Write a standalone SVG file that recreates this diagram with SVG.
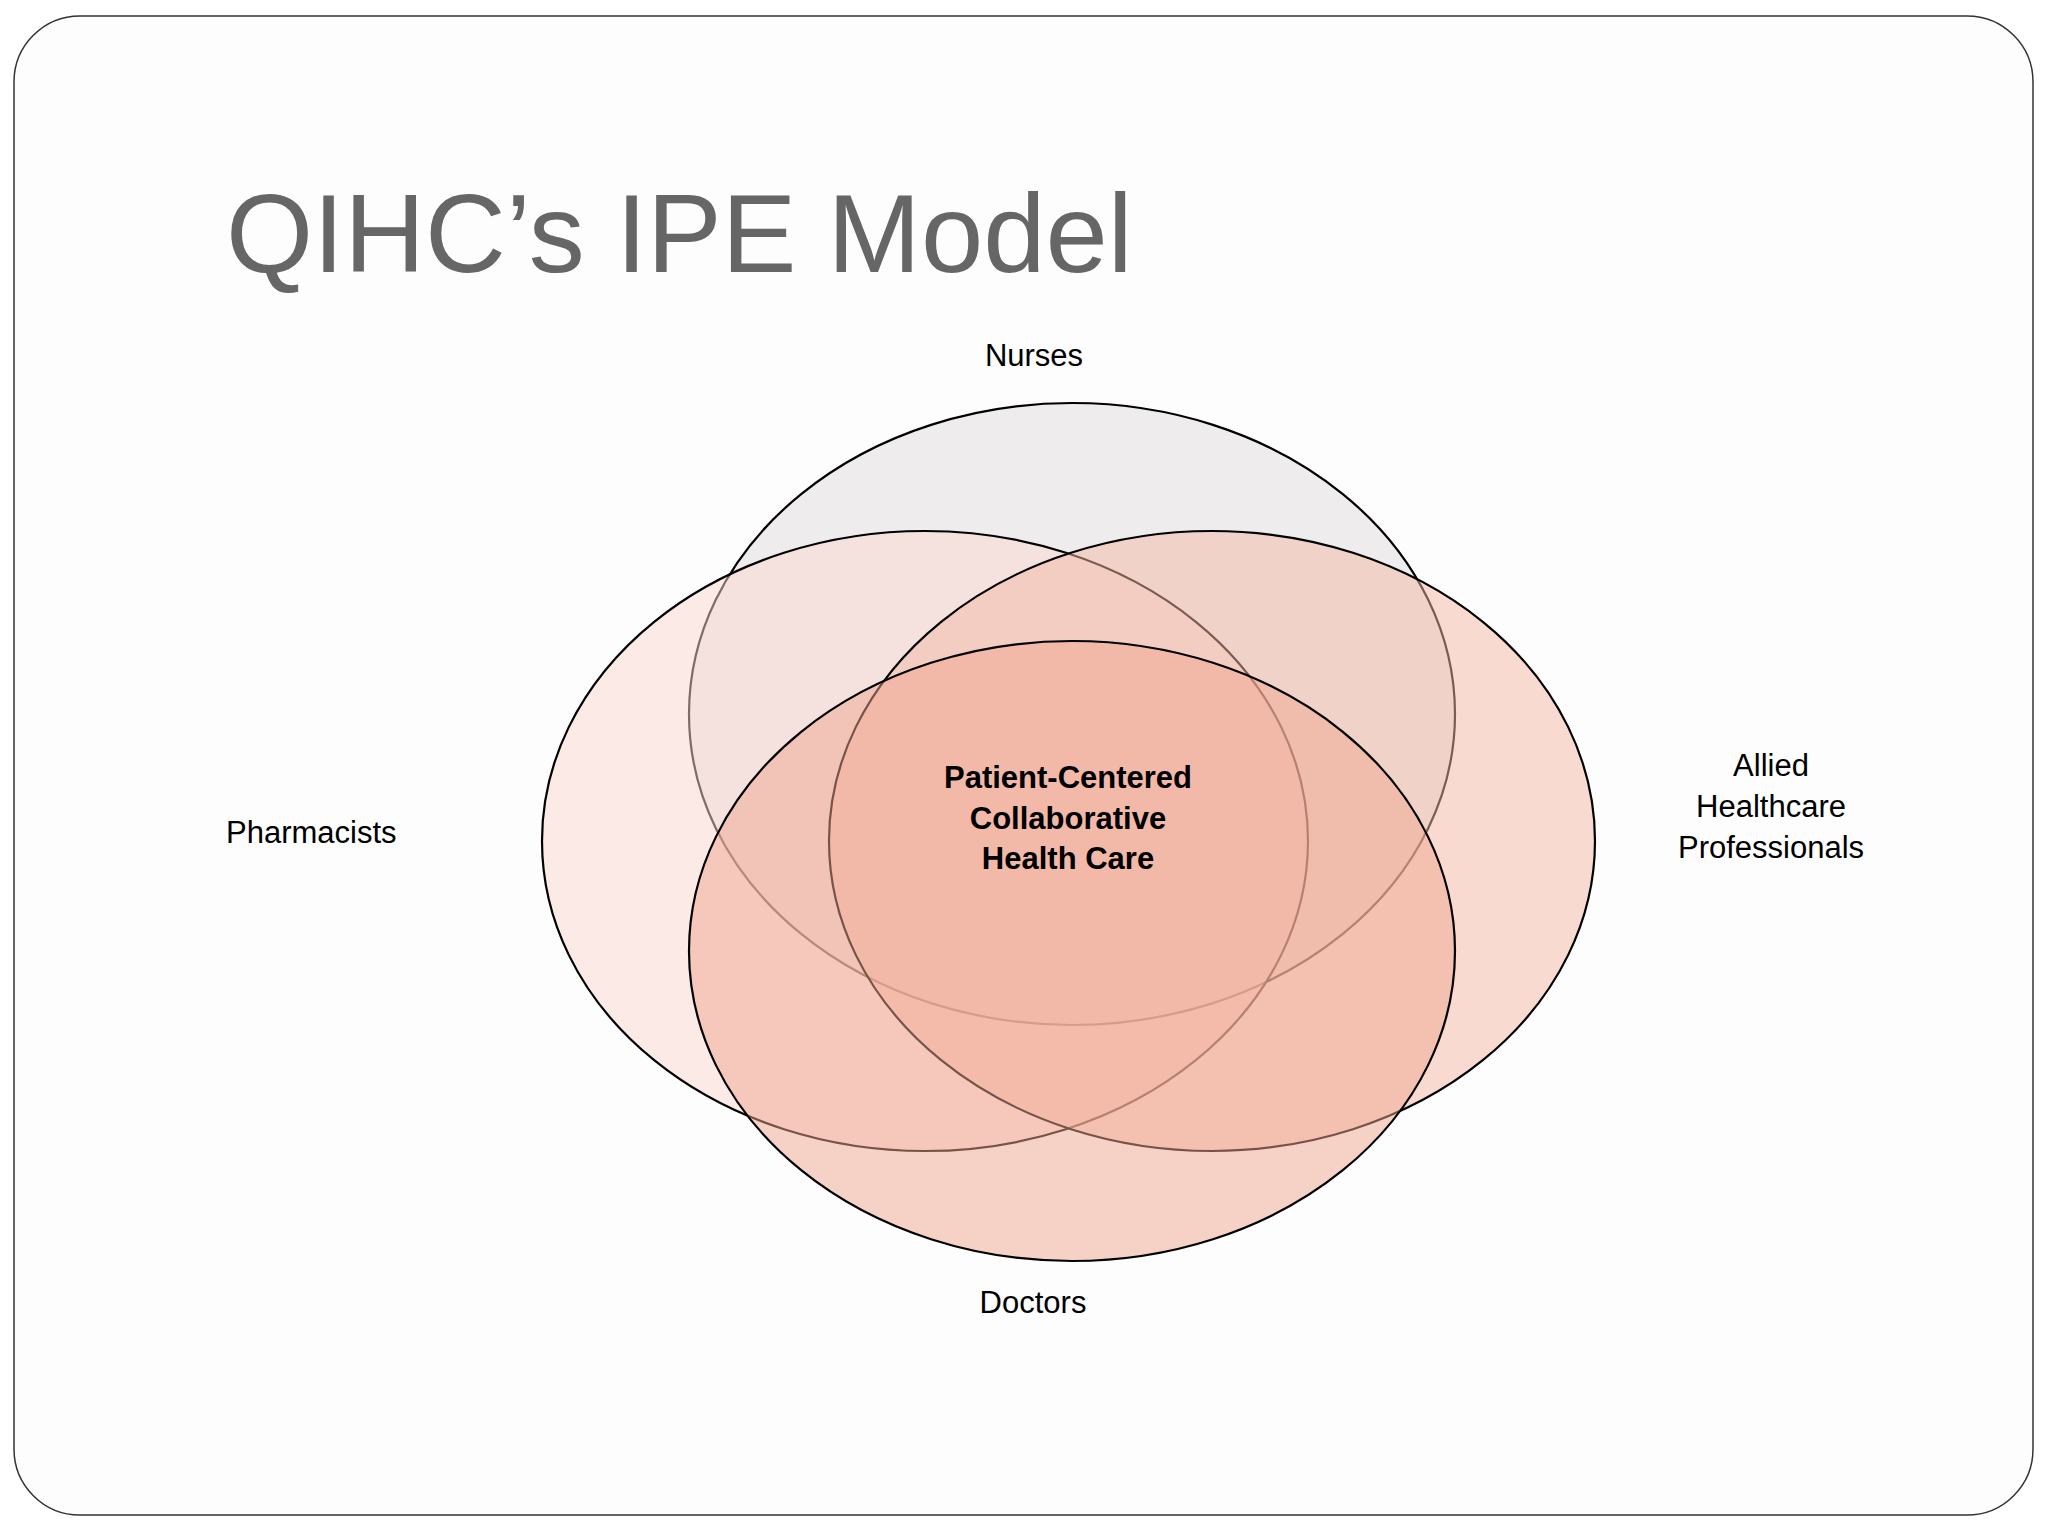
<svg xmlns="http://www.w3.org/2000/svg" width="2048" height="1536" viewBox="0 0 2048 1536">
<style>
.lbl{font-family:"Liberation Sans",Arial,sans-serif;font-size:31px;fill:#000}
.ctr{font-family:"Liberation Sans",Arial,sans-serif;font-size:31px;font-weight:bold;fill:#000;text-anchor:middle}
.ell{stroke:#000;stroke-width:2.2;fill-opacity:0.5}
</style>
<rect width="2048" height="1536" fill="#ffffff"/>
<rect x="14" y="16" width="2019" height="1499" rx="66" fill="#fdfdfd" stroke="#333" stroke-width="1.5"/>
<text x="226" y="272" font-family="Liberation Sans,Arial,sans-serif" font-size="112" fill="#666666">QIHC’s IPE Model</text>
<g id="nodes">
<g id="nurses"><ellipse class="ell" cx="1072" cy="714" rx="383" ry="311" fill="#e2dcde"/></g>
<g id="pharmacists"><ellipse class="ell" cx="925" cy="841" rx="383" ry="310" fill="#fbd8d2"/></g>
<g id="allied"><ellipse class="ell" cx="1212" cy="841" rx="383" ry="310" fill="#f3b8a6"/></g>
<g id="doctors"><ellipse class="ell" cx="1072" cy="951" rx="383" ry="310" fill="#f0a690"/></g>
</g>
<g id="connectors"></g>
<g id="labels">
<text class="lbl" x="1034" y="366" text-anchor="middle">Nurses</text>
<text class="lbl" x="226" y="843">Pharmacists</text>
<text class="lbl" x="1771" y="776" text-anchor="middle">Allied</text>
<text class="lbl" x="1771" y="817" text-anchor="middle">Healthcare</text>
<text class="lbl" x="1771" y="858" text-anchor="middle">Professionals</text>
<text class="lbl" x="1033" y="1313" text-anchor="middle">Doctors</text>
<text class="ctr" x="1068" y="788">Patient-Centered</text>
<text class="ctr" x="1068" y="829">Collaborative</text>
<text class="ctr" x="1068" y="869">Health Care</text>
</g>
</svg>
